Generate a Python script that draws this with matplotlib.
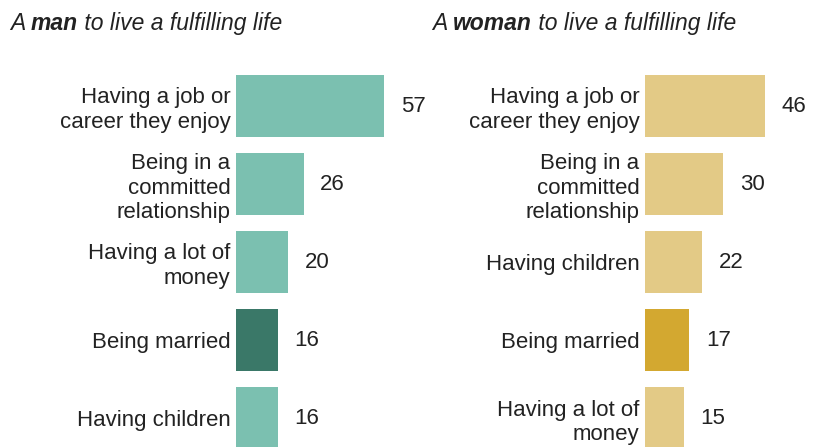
import matplotlib
matplotlib.use("Agg")
import matplotlib.pyplot as plt

plt.rcParams["font.family"] = ["Liberation Sans", "DejaVu Sans"]

men_labels = ["Having a job or\ncareer they enjoy", "Being in a\ncommitted\nrelationship",
              "Having a lot of\nmoney", "Being married", "Having children"]
men_values = [57, 26, 20, 16, 16]
men_colors = ["#7bc0b0", "#7bc0b0", "#7bc0b0", "#3a7868", "#7bc0b0"]

women_labels = ["Having a job or\ncareer they enjoy", "Being in a\ncommitted\nrelationship",
                "Having children", "Being married", "Having a lot of\nmoney"]
women_values = [46, 30, 22, 17, 15]
women_colors = ["#e3ca86", "#e3ca86", "#e3ca86", "#d3a830", "#e3ca86"]

W, H = 815, 447
PX_PER_UNIT = 2.6
PITCH = 78
fig = plt.figure(figsize=(W / 100, H / 100), dpi=100)

def panel(x0, x1, labels, values, colors):
    top = 67
    ax = fig.add_axes([x0 / W, 0, (x1 - x0) / W, (H - top) / H])
    pos = list(range(len(values)))
    ax.barh(pos, values, height=0.8, color=colors)
    ax.set_xlim(0, (x1 - x0) / PX_PER_UNIT)
    ax.set_ylim(-0.5 + (H - top) / PITCH, -0.5)
    ax.set_yticks(pos)
    ax.set_yticklabels(labels, fontsize=16, multialignment="right", color="#222222")
    ax.tick_params(axis="y", length=0, pad=4)
    ax.set_xticks([])
    for s in ax.spines.values():
        s.set_visible(False)
    for p, v in zip(pos, values):
        ax.annotate(str(v), (v, p), xytext=(12, 0), textcoords="offset points",
                    va="center", ha="left", fontsize=16, color="#222222")
    return ax

panel(236, 420, men_labels, men_values, men_colors)
panel(645, 815, women_labels, women_values, women_colors)

def title(x, pieces):
    renderer = fig.canvas.get_renderer()
    for txt, weight in pieces:
        t = fig.text(x / W, 1 - 30 / H, txt, fontsize=16.5, style="italic",
                     weight=weight, color="#222222", va="baseline")
        x = t.get_window_extent(renderer).x1

title(10, [("A ", "normal"), ("man", "bold"), (" to live a fulfilling life", "normal")])
title(432, [("A ", "normal"), ("woman", "bold"), (" to live a fulfilling life", "normal")])

fig.savefig("out.png", dpi=100)
